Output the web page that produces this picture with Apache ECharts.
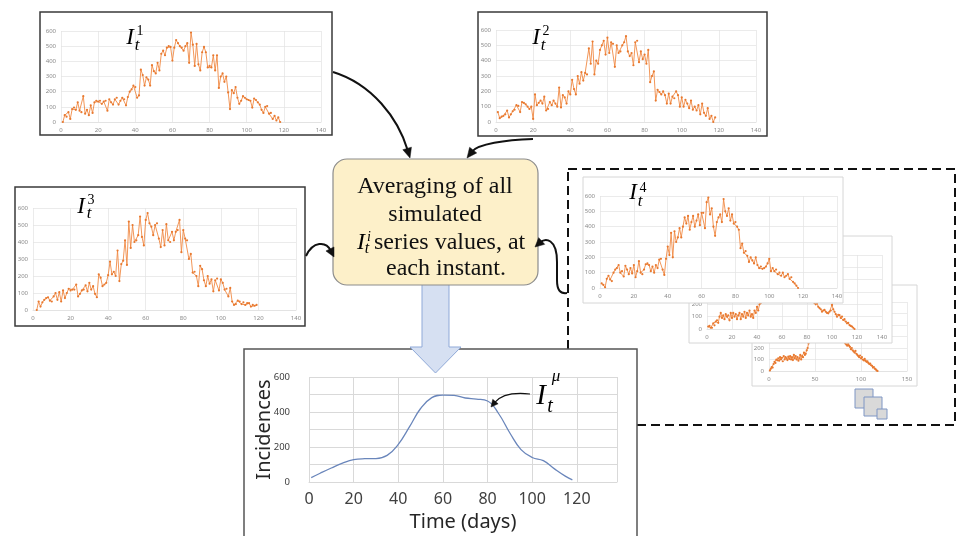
<!DOCTYPE html>
<html><head><meta charset="utf-8">
<script src="https://cdn.jsdelivr.net/npm/echarts@6/dist/echarts.min.js"></script>
<style>html,body{margin:0;padding:0;background:#fff}#c{width:957px;height:536px}</style>
</head><body><div id="c"></div>
<script>
// ---------- DATA ----------
// simulated incidence series I_t^1 .. I_t^4 (+ two stacked ones behind I_t^4)
const run1Start = 1;
const run1 = [0,45,35,65,20,85,95,80,130,75, 65,170,55,80,45,110,60,130,140,135,
  140,120,135,140,75,150,130,115,150,160, 115,140,160,150,110,165,200,215,240,230,
  160,175,345,310,240,295,280,240,375,335, 320,390,340,450,470,440,490,500,495,405,
  490,540,520,500,490,470,500,520,390,590, 510,370,515,380,340,460,495,460,360,370,
  360,440,340,440,225,300,320,265,300,195, 85,210,190,230,160,120,140,170,160,150,
  145,140,95,155,145,130,115,80,60,100, 105,55,60,20,40,10,30,0];
const run2Start = 1;
const run2 = [65,25,35,40,50,75,30,50,70,80, 110,105,65,130,125,115,100,85,100,20,
  180,110,125,140,120,165,75,85,130,110, 140,120,100,225,95,175,160,120,200,180,
  275,215,180,300,250,325,270,320,310,480, 380,525,310,400,380,470,500,530,440,550,
  450,520,510,360,500,450,460,500,520,560, 460,430,450,370,520,530,390,460,410,440,
  380,470,260,300,330,140,210,195,180,200, 175,120,185,120,165,155,200,175,100,160,
  100,145,120,90,140,80,100,75,110,50, 120,60,40,90,20,40,0,30];
const run3Start = 2;
const run3 = [0,50,20,45,60,70,75,55,50,80, 100,60,105,50,115,70,100,125,115,120,
  120,150,80,95,115,120,145,110,160,120, 140,95,75,210,190,140,150,160,205,285,
  210,225,200,350,170,270,290,410,265,520, 365,500,400,410,440,550,430,380,530,570,
  510,490,440,500,510,420,370,470,380,505, 410,400,460,410,460,470,530,340,470,420,
  410,300,330,220,225,200,140,260,240,175, 140,200,155,180,110,175,185,115,180,160,
  120,125,80,130,50,30,35,55,50,35, 45,30,40,40,20,30,25,30];
const run4Start = 1;
const run4 = [30,20,5,60,80,55,45,100,120,130, 150,100,110,75,145,120,90,130,95,150,
  70,110,175,100,90,120,155,160,150,110, 140,100,150,130,185,190,120,85,190,270,
  215,360,200,370,300,330,390,330,400,460, 420,470,380,430,470,400,440,480,410,490,
  490,390,560,590,480,520,400,340,430,460, 480,430,580,500,470,520,440,480,420,430,
  400,380,260,290,230,240,210,170,200,180, 160,200,150,130,140,125,130,140,160,190,
  110,130,110,120,90,100,80,100,70,80, 90,60,70,40,30,15,0];
const run5Start = 1;
const run5 = [20,25,10,10,45,30,60,70,50,100, 130,90,110,80,120,100,110,70,130,90,
  130,100,120,80,110,130,80,120,100,140, 90,130,110,150,100,120,90,150,130,180,
  150,200,210,250,300,340,320,380,400,430, 450,420,480,500,470,520,490,540,500,530,
  480,510,470,500,450,480,430,460,420,440, 400,410,380,370,350,330,300,310,280,260,
  270,240,250,220,230,210,200,210,180,170, 160,140,150,155,140,130,127,140,150,195,
  160,140,120,100,115,113,90,100,73,80, 60,46,50,32,25,20,10,0];
const run6Start = 1;
const run6 = [5,20,35,30,60,80,70,100,93,110, 90,120,100,115,85,130,100,120,110,95,
  125,105,130,100,120,95,140,110,130,100, 120,90,110,140,100,130,120,160,140,150,
  180,200,240,280,310,350,380,400,420,450, 470,460,490,500,480,510,490,520,500,480,
  500,470,490,460,480,450,460,430,440,410, 420,390,400,370,360,340,330,300,290,270,
  260,250,240,230,220,235,220,210,190,200, 180,170,160,175,150,140,130,120,135,110,
  120,100,93,105,90,80,85,70,60,65, 50,45,30,35,20,15,5,0];
// averaged series I_t^mu
const meanDays = [1,5,10,15,20,25,30,35,40,45,50,55,60,65,70,75,80,85,90,95,100,105,110,115,118];
const meanVals = [25,50,80,108,128,133,134,152,215,315,420,482,497,495,480,474,463,390,280,185,140,122,75,32,12];
// axis scales / tick labels
const smallYMax = 600, smallYStep = 100;
const smallXMax = 140, smallXStep = 20;
const backXMax = 150, backXStep = 50;
const meanXMax = 138, meanXStep = 20, meanYLabelStep = 200;
const meanXName = 'Time (days)', meanYName = 'Incidences';
const boxLines = ['Averaging of all', 'simulated', 'series values, at', 'each instant.'];

// ---------- BUILD ----------
const toPts = (arr, s) => arr.map((v, i) => [s + i, v]);
const grids = [], xAxes = [], yAxes = [], series = [];
function addPanel(r, c) {
  const i = grids.length;
  grids.push({left: r[0], top: r[1], width: r[2], height: r[3], z: c.z, containLabel: false});
  xAxes.push({
    gridIndex: i, type: 'value', min: 0, max: c.xMax, interval: c.xStep, z: c.z,
    axisLine: {show: true, lineStyle: {color: c.gc, width: 1}},
    axisTick: {show: false},
    splitLine: {show: true, lineStyle: {color: c.gc, width: c.gw || 0.7}},
    axisLabel: {fontSize: c.xFont, color: c.lc, margin: c.xMargin, fontFamily: 'Noto Sans',
      showMaxLabel: true, formatter: c.xFmt || (v => v)},
    name: c.xName || '', nameLocation: 'middle', nameGap: c.xNameGap || 0, nameMoveOverlap: false,
    nameTextStyle: {fontSize: 20, color: '#262626', fontFamily: 'Noto Sans'}
  });
  yAxes.push({
    gridIndex: i, type: 'value', min: 0, max: smallYMax, interval: smallYStep, z: c.z,
    axisLine: {show: false}, axisTick: {show: false},
    splitLine: {show: true, lineStyle: {color: c.gc, width: c.gw || 0.7}},
    axisLabel: {fontSize: c.yFont, color: c.lc, margin: c.yMargin, fontFamily: 'Noto Sans',
      formatter: c.yFmt || (v => v)},
    name: c.yName || '', nameLocation: 'middle', nameGap: c.yNameGap || 0, nameRotate: 90,
    nameMoveOverlap: false,
    nameTextStyle: {fontSize: 20, color: '#262626', fontFamily: 'Noto Sans'}
  });
  series.push(Object.assign({
    type: 'line', xAxisIndex: i, yAxisIndex: i, data: c.data, z: c.z + 1,
    symbol: 'circle', symbolSize: 2.2, showSymbol: true,
    itemStyle: {color: '#E8792F'}, lineStyle: {color: '#F08A45', width: 0.9},
    silent: true
  }, c.extra || {}));
}
const small = {xMax: smallXMax, xStep: smallXStep, gc: '#e3e3e3', lc: '#8a8a8a', xFont: 6, yFont: 6, xMargin: 5, yMargin: 5};
addPanel([61, 31, 260, 91], Object.assign({}, small, {z: 3, data: toPts(run1, run1Start)}));
addPanel([496, 30, 260, 92], Object.assign({}, small, {z: 3, data: toPts(run2, run2Start)}));
addPanel([33, 208, 263, 102], Object.assign({}, small, {z: 3, data: toPts(run3, run3Start)}));
addPanel([769, 302, 138, 69], Object.assign({}, small, {z: 3, xMax: backXMax, xStep: backXStep, data: toPts(run6, run6Start)}));
addPanel([707, 255, 175, 74], Object.assign({}, small, {z: 6, data: toPts(run5, run5Start)}));
addPanel([600, 196, 237, 92], Object.assign({}, small, {z: 9, data: toPts(run4, run4Start)}));
addPanel([309, 377, 308, 105], {
  z: 12, xMax: meanXMax, xStep: meanXStep, gc: '#d9d9d9', gw: 1, lc: '#404040',
  xFont: 16, yFont: 9.5, xMargin: 9, yMargin: 19,
  xFmt: v => (v % meanXStep === 0 ? String(v) : ''),
  yFmt: v => (v % meanYLabelStep === 0 ? String(v) : ''),
  xName: meanXName, xNameGap: 30, yName: meanYName, yNameGap: 35,
  data: meanDays.map((d, i) => [d, meanVals[i]]),
  extra: {symbol: 'none', showSymbol: false, smooth: 0.45,
    lineStyle: {color: '#6a86bb', width: 1.3}, itemStyle: {color: '#6a86bb'}}
});

// ---------- DECORATION ----------
const G = [];
const rect = (x, y, w, h, style, z, r) => G.push({type: 'rect', z, silent: true,
  shape: {x, y, width: w, height: h, r: r || 0}, style});
const txt = (x, y, s, size, z, opt) => G.push({type: 'text', z, silent: true, x, y,
  style: Object.assign({text: s, fontSize: size, fontFamily: 'Liberation Serif', fill: '#111',
    align: 'center', verticalAlign: 'middle'}, opt || {})});
function bez(p0, c1, c2, p3, w, z) {
  G.push({type: 'bezierCurve', z, silent: true,
    shape: {x1: p0[0], y1: p0[1], cpx1: c1[0], cpy1: c1[1], cpx2: c2[0], cpy2: c2[1], x2: p3[0], y2: p3[1]},
    style: {fill: null, stroke: '#111', lineWidth: w}});
}
function arrow(p0, c1, c2, tip, len, hw, w, z) {
  let dx = tip[0] - c2[0], dy = tip[1] - c2[1];
  const L = Math.hypot(dx, dy); dx /= L; dy /= L;
  const b = [tip[0] - dx * len * 0.8, tip[1] - dy * len * 0.8];
  const hb = [tip[0] - dx * len, tip[1] - dy * len];
  bez(p0, c1, c2, b, w, z);
  G.push({type: 'polygon', z, silent: true, shape: {points: [tip,
    [hb[0] - dy * hw, hb[1] + dx * hw], [hb[0] + dy * hw, hb[1] - dx * hw]]},
    style: {fill: '#111', stroke: '#111', lineWidth: 0.5}});
}
function mathLabel(cx, cy, sup, sI, sT, sS, dT, dS, z) {
  txt(cx, cy, 'I', sI, z, {fontStyle: 'italic', fill: '#000'});
  txt(cx + dT[0], cy + dT[1], 't', sT, z, {fontStyle: 'italic', fill: '#000'});
  txt(cx + dS[0], cy + dS[1], sup, sS, z, {fill: '#000', fontStyle: sup === 'i' || sup === 'μ' ? 'italic' : 'normal'});
}
// dashed frame around the stacked simulations
rect(568, 169, 387, 256, {fill: 'none', stroke: '#111', lineWidth: 2, lineDash: [9, 5]}, 1);
// chart frames
const dark = {fill: '#fff', stroke: '#3a3a3a', lineWidth: 1.5};
const light = {fill: '#fff', stroke: '#d6d6d6', lineWidth: 1};
rect(40, 12, 292, 123, dark, 2);
rect(478, 12, 289, 124, dark, 2);
rect(15, 187, 290, 139, dark, 2);
rect(752, 285, 165, 101, light, 2);
rect(689, 236, 203, 107, light, 5);
rect(583, 177, 260, 126, light, 8);
rect(244, 349, 393, 200, {fill: '#fff', stroke: '#555', lineWidth: 1.5}, 11);
// stacked-squares icon
const sq = {fill: '#d9d9d9', stroke: '#7f96c4', lineWidth: 1};
rect(855, 389, 18, 19, sq, 15); rect(864, 397, 18, 19, sq, 16); rect(877, 409, 10, 10, sq, 17);
// big block arrow
G.push({type: 'polygon', z: 14, silent: true, shape: {points: [[422, 280], [449, 280], [449, 347],
  [461, 347], [435.5, 373], [410, 347], [422, 347]]}, style: {fill: '#d6e0f2', stroke: '#8fa9d8', lineWidth: 1}});
// central box
rect(333, 159, 205, 126, {fill: '#fdf0c9', stroke: '#8c8c8c', lineWidth: 1.2}, 20, 14);
txt(435, 187, boxLines[0], 24, 21);
txt(435, 215, boxLines[1], 24, 21);
txt(374, 243, boxLines[2], 24, 21, {align: 'left'});
txt(446, 269, boxLines[3], 24, 21);
mathLabel(361, 243, 'i', 24, 16, 14, [6, 6], [8, -6], 21);
// curved arrows
arrow([333, 72], [372, 84], [398, 118], [410, 158], 10, 4.5, 2, 22);
arrow([533, 139], [505, 140], [478, 144], [467, 158], 10, 4.5, 2, 22);
arrow([306, 256], [313, 241], [326, 241], [334, 257], 9, 4.5, 2, 22);
bez([567, 293], [560, 294], [557, 290], [557, 280], 2, 22);
G.push({type: 'line', z: 22, silent: true, shape: {x1: 557, y1: 280, x2: 557, y2: 262}, style: {stroke: '#111', lineWidth: 2}});
arrow([557, 262], [557, 238], [545, 238], [535, 247], 9, 4.5, 2, 22);
arrow([530, 394], [512, 392], [500, 396], [491, 407], 7, 3.5, 1.2, 22);
// series labels
mathLabel(130, 38, '1', 23, 17, 14, [7, 8], [10, -7], 25);
mathLabel(536, 38, '2', 23, 17, 14, [7, 8], [10, -7], 25);
mathLabel(81, 207, '3', 23, 17, 14, [8, 7], [10, -7], 25);
mathLabel(633, 193, '4', 23, 17, 14, [7, 9], [10, -5], 25);
mathLabel(541, 396, 'μ', 29, 20, 17, [9, 11], [15, -19], 25);

const chart = echarts.init(document.getElementById('c'), null, {renderer: 'canvas'});
chart.setOption({
  animation: false, backgroundColor: '#fff',
  grid: grids, xAxis: xAxes, yAxis: yAxes, series: series,
  graphic: {elements: G}
});
</script></body></html>
